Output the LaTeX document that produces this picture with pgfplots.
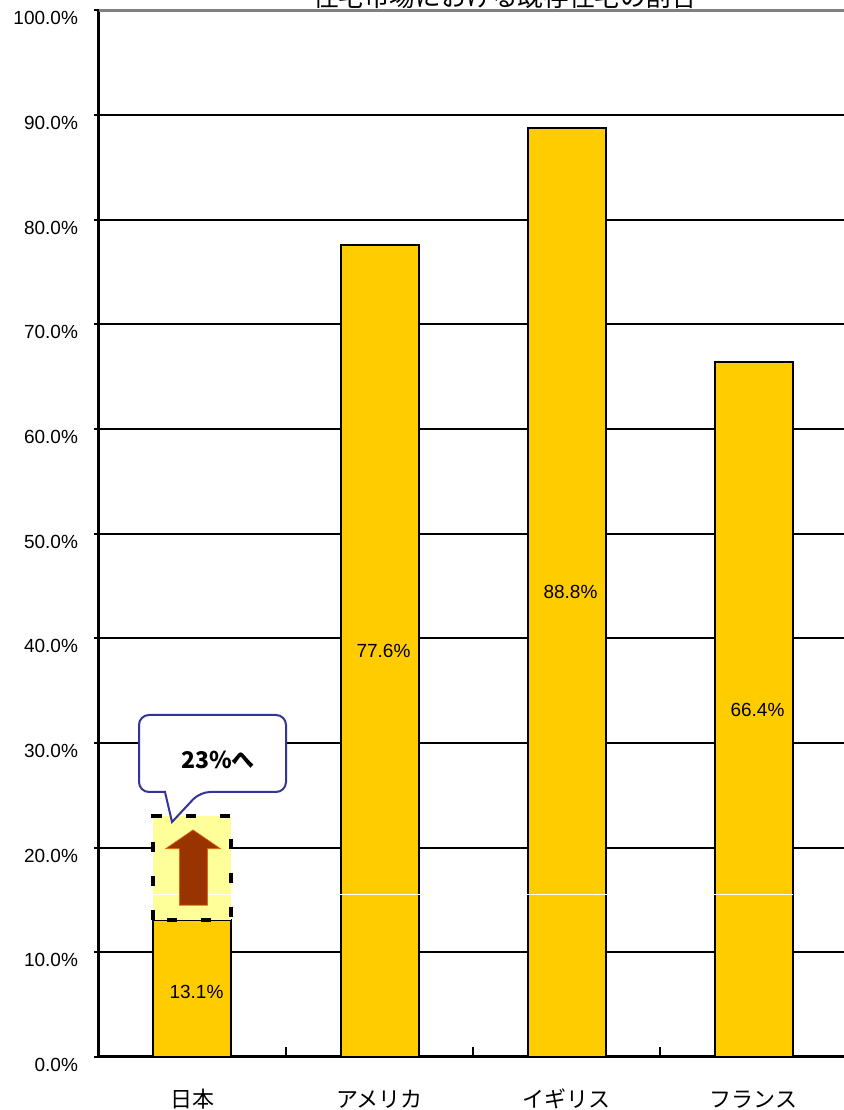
\documentclass[border=0pt]{standalone}
\usepackage{pgfplots}
\pgfplotsset{compat=1.18}
\usepackage{fontspec}
\setmainfont{Liberation Sans}
\newfontfamily\jp{Noto Sans CJK JP}
\definecolor{barfill}{HTML}{FFCC00}
\definecolor{boxfill}{HTML}{FFFF99}
\definecolor{arrowbrown}{HTML}{993300}
\definecolor{callblue}{HTML}{333399}
\begin{document}
\begin{tikzpicture}[x=1pt,y=1pt]
\useasboundingbox (0,0) rectangle (421.5,555);
\begin{axis}[
  at={(49.5pt,26.5pt)}, anchor=south west,
  scale only axis, width=374pt, height=523.3pt,
  xmin=-0.5, xmax=3.5, ymin=0, ymax=100,
  axis x line*=bottom, axis y line*=left,
  axis line style={line width=1.5pt, black},
  xtick={0,1,2,3},
  xticklabels={日本,アメリカ,イギリス,フランス},
  xticklabel style={font=\jp\fontsize{11}{13}\selectfont, anchor=base, yshift=-23pt},
  xtick style={draw=none},
  extra x ticks={0.5,1.5,2.5},
  extra x tick labels={},
  extra x tick style={xtick style={draw=black, line width=1pt}, tick align=inside, major tick length=5pt},
  ytick={0,10,...,100},
  yticklabels={0.0\%,10.0\%,20.0\%,30.0\%,40.0\%,50.0\%,60.0\%,70.0\%,80.0\%,90.0\%,100.0\%},
  yticklabel style={font=\fontsize{9.5}{11}\selectfont, anchor=east, yshift=-4pt, xshift=-4.5pt},
  ytick style={draw=black, line width=1pt},
  tick align=outside, major tick length=2.5pt,
  ymajorgrids, major grid style={black, line width=1pt},
  clip=false,
]
\addplot[ybar, bar width=39pt, fill=barfill, draw=black, line width=1pt]
  coordinates {(0,13.1)(1,77.6)(2,88.8)(3,66.4)};
\draw[gray, line width=1.5pt] (rel axis cs:0,1) -- (rel axis cs:1,1);
% highlight box for Japan (13.1% -> 23%)
\fill[boxfill] ([xshift=-19.5pt]axis cs:0,13.1) rectangle ([xshift=19.5pt]axis cs:0,23);
\addplot[white, line width=0.5pt, forget plot] coordinates {(-0.21,15.5)(3.21,15.5)};
\draw[black, line width=2pt, dash pattern=on 5pt off 12pt] ([xshift=-19.5pt]axis cs:0,13.1) rectangle ([xshift=19.5pt]axis cs:0,23);
\fill[arrowbrown, draw=orange!70!arrowbrown, line width=0.3pt]
  (axis cs:-0.070,14.5) -- (axis cs:-0.070,19.9) -- (axis cs:-0.144,19.9) -- (axis cs:0.003,21.7)
  -- (axis cs:0.150,19.9) -- (axis cs:0.080,19.9) -- (axis cs:0.080,14.5) -- cycle;
\addplot[draw=none, mark=none, nodes near coords, point meta=explicit symbolic,
  every node near coord/.style={anchor=center, font=\fontsize{9.5}{11}\selectfont, xshift=2pt}]
  coordinates {(0,6.2)[13.1\%] (1,38.8)[77.6\%] (2,44.4)[88.8\%] (3,33.2)[66.4\%]};
\end{axis}
\node[font=\jp\fontsize{12.8}{14}\selectfont, anchor=base] at (252.5,551.5) {住宅市場における既存住宅の割合};
\begin{scope}[x=0.5pt, y=-0.5pt, yshift=555pt]
  \draw[callblue, line width=1pt, fill=white]
    (139,750) [rounded corners=5pt] -- (139,715) -- (286,715) -- (286,792) -- (200,792) [sharp corners] -- (172,822) -- (165,792) [rounded corners=5pt] -- (139,792) -- cycle;
  \node[font=\jp\bfseries\fontsize{11.5}{13}\selectfont] at (218,760) {23\%へ};
\end{scope}
\end{tikzpicture}
\end{document}
